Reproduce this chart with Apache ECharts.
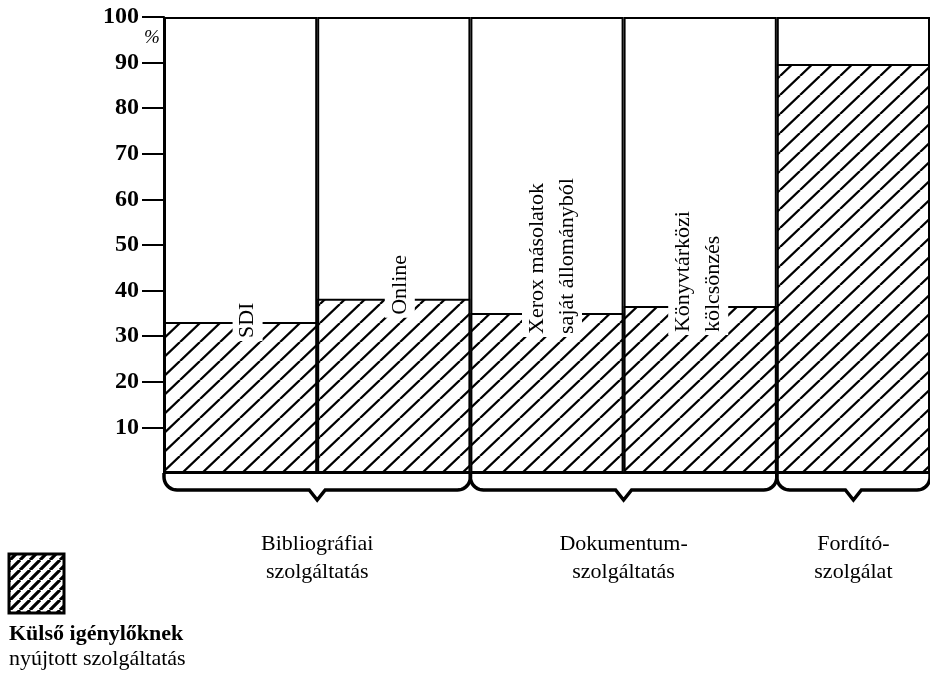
<!DOCTYPE html>
<html><head><meta charset="utf-8">
<script src="https://cdn.jsdelivr.net/npm/echarts@6/dist/echarts.min.js"></script>
<style>html,body{margin:0;padding:0;background:#fff}#c{width:930px;height:673px}</style>
</head><body><div id="c"></div>
<script>
// ---- data ----
const categories = ['SDI', 'Online', 'Xerox másolatok saját állományból', 'Könyvtárközi kölcsönzés', 'Fordító'];
const barLabels = ['SDI', 'Online', 'Xerox másolatok\nsaját állományból', 'Könyvtárközi\nkölcsönzés', ''];
const externalShare = [33.1, 38.2, 35.1, 36.6, 89.7];
const totalShare = [100, 100, 100, 100, 100];
const yTicks = [10, 20, 30, 40, 50, 60, 70, 80, 90, 100];
const groupNames = ['Bibliográfiai\nszolgáltatás', 'Dokumentum-\nszolgáltatás', 'Fordító-\nszolgálat'];
const groupFirst = [0, 2, 4];
const groupLast = [1, 3, 4];
const legendText = ['Külső igénylőknek', 'nyújtott szolgáltatás'];
const unitText = '%';

// ---- styles ----
const SERIF = "Liberation Serif";
const labelDrop = [-19, -19, -24, -29, 0];
const labelShift = [7, 6, 5, -2, 0];
function hatch(w, h, lw) {
  const c = document.createElement('canvas');
  c.width = w; c.height = h;
  const g = c.getContext('2d');
  g.fillStyle = '#fff'; g.fillRect(0, 0, w, h);
  g.strokeStyle = '#000'; g.lineWidth = lw;
  g.beginPath();
  for (const dx of [-w, 0, w]) { g.moveTo(dx, h); g.lineTo(dx + w, 0); }
  g.stroke();
  return c;
}
const barHatch = { image: hatch(20, 19, 2.3), repeat: 'repeat' };
const legendHatch = { image: hatch(10, 10, 3.2), repeat: 'repeat' };

const chart = echarts.init(document.getElementById('c'), null, { renderer: 'canvas' });
chart.setOption({
  animation: false,
  backgroundColor: '#fff',
  grid: { left: 164, right: 0, top: 17, bottom: 200 },
  xAxis: {
    type: 'category', data: categories,
    axisLine: { show: true, lineStyle: { color: '#000', width: 2 } },
    axisTick: { show: false }, axisLabel: { show: false }, splitLine: { show: false }
  },
  yAxis: {
    type: 'value', min: 0, max: 100, interval: 10,
    axisLine: { show: true, lineStyle: { color: '#000', width: 2 } },
    axisTick: { show: true, length: 22, lineStyle: { color: '#000', width: 2 }, customValues: yTicks },
    axisLabel: { customValues: yTicks, color: '#000', fontFamily: SERIF, fontSize: 24, fontWeight: 'bold', margin: 25 },
    splitLine: { show: false }
  },
  series: [
    {
      type: 'bar', data: totalShare, barWidth: '100%', barGap: '-100%', silent: true,
      itemStyle: { color: '#fff', borderColor: '#000', borderWidth: 2 }
    },
    {
      type: 'bar', barWidth: '100%', barGap: '-100%',
      data: externalShare.map((v, i) => ({
        value: v,
        label: { show: barLabels[i] !== '', distance: labelDrop[i], offset: [0, labelShift[i]] }
      })),
      itemStyle: { color: barHatch, borderColor: '#000', borderWidth: 2 },
      label: {
        show: true, formatter: p => barLabels[p.dataIndex],
        position: 'top', rotate: 90, align: 'left', verticalAlign: 'middle',
        fontFamily: SERIF, fontSize: 22, lineHeight: 30, color: '#000',
        backgroundColor: '#fff', padding: [0, 3]
      }
    }
  ]
});

function arcPts(cx, cy, r, a0, a1, n) {
  const pts = [];
  for (let k = 0; k <= n; k++) {
    const a = a0 + (a1 - a0) * k / n;
    pts.push([cx + r * Math.cos(a), cy + r * Math.sin(a)]);
  }
  return pts;
}

function drawExtras() {
  const px = i => chart.convertToPixel({ xAxisIndex: 0 }, i);
  const py = v => chart.convertToPixel({ yAxisIndex: 0 }, v);
  const band = px(1) - px(0);
  const base = py(0);
  const r = 13, yh = base + 1 + r + 3, yt = base + 27;
  const g = [];
  groupNames.forEach((name, k) => {
    const x0 = px(groupFirst[k]) - band / 2;
    const x1 = px(groupLast[k]) + band / 2;
    const xm = (x0 + x1) / 2;
    const pts = [].concat(
      arcPts(x0 + r, yh - r, r, Math.PI, Math.PI / 2, 10),
      [[xm - 8, yh], [xm, yt], [xm + 8, yh]],
      arcPts(x1 - r, yh - r, r, Math.PI / 2, 0, 10)
    );
    pts.unshift([x0, base]);
    pts.push([x1, base]);
    g.push({ type: 'polyline', shape: { points: pts }, style: { fill: null, stroke: '#000', lineWidth: 3.5, lineJoin: 'miter' }, z: 10 });
    g.push({
      type: 'text', x: xm, y: base + 85,
      style: { text: name, fill: '#000', font: `22px ${SERIF}`, lineHeight: 28, align: 'center', verticalAlign: 'middle' },
      z: 10
    });
  });
  g.push({
    type: 'text', x: px(0) - band / 2 - 12, y: py(100) + 21,
    style: { text: unitText, fill: '#000', font: `italic 19px ${SERIF}`, align: 'center', verticalAlign: 'middle' }, z: 10
  });
  g.push({ type: 'rect', shape: { x: 9, y: 554, width: 55, height: 59 }, style: { fill: legendHatch, stroke: '#000', lineWidth: 3 }, z: 10 });
  g.push({
    type: 'text', x: 9, y: 647,
    style: {
      text: `{b|${legendText[0]}}\n{n|${legendText[1]}}`, fill: '#000', verticalAlign: 'middle',
      rich: {
        b: { font: `bold 22px ${SERIF}`, lineHeight: 25, fill: '#000' },
        n: { font: `22px ${SERIF}`, lineHeight: 25, fill: '#000' }
      }
    }, z: 10
  });
  chart.setOption({ graphic: g });
}
drawExtras();
</script>
</body></html>
